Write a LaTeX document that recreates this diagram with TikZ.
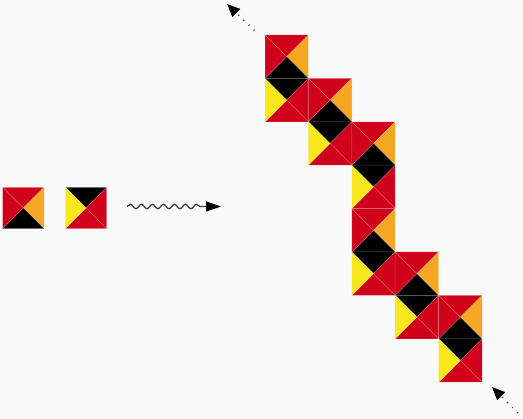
\documentclass[tikz,border=0pt]{standalone}
\usepackage{xcolor}
\usepackage{tikz}
\usetikzlibrary{calc, arrows.meta, decorations.pathmorphing}

\definecolor{tilered}{HTML}{D0021B}
\definecolor{tileorange}{HTML}{F5A623}
\definecolor{tileyellow}{HTML}{F8E71C}
\definecolor{bggray}{HTML}{F9F9F9}
\definecolor{wavegray}{HTML}{2E4046}
\definecolor{dotgray}{HTML}{3A4A50}

% one square tile cut by its diagonals: #1 corner, #2 side, #3 top, #4 right, #5 bottom, #6 left
\newcommand{\wangtile}[6]{%
  \begin{scope}[shift={#1}]
    \filldraw[tileedge, fill=#3] (0,0) -- (#2,0) -- (#2/2,#2/2) -- cycle;
    \filldraw[tileedge, fill=#4] (#2,0) -- (#2,#2) -- (#2/2,#2/2) -- cycle;
    \filldraw[tileedge, fill=#5] (#2,#2) -- (0,#2) -- (#2/2,#2/2) -- cycle;
    \filldraw[tileedge, fill=#6] (0,#2) -- (0,0) -- (#2/2,#2/2) -- cycle;
  \end{scope}}
\newcommand{\tileA}[2]{\wangtile{#1}{#2}{tilered}{tileorange}{black}{tilered}}
\newcommand{\tileB}[2]{\wangtile{#1}{#2}{black}{tilered}{tilered}{tileyellow}}

\begin{document}
\begin{tikzpicture}[x=1pt, y=-1pt,
    tileedge/.style={draw=white, draw opacity=0.22, line width=0.5pt},
    dotarrow/.style={draw=dotgray, line width=1.4pt, dash pattern=on 1.2pt off 5.9pt,
      -{Triangle[length=13pt, width=11pt, black]}},
    wavearrow/.style={draw=wavegray, line width=1.3pt,
      -{Triangle[length=15pt, width=10pt, black]},
      decorate, decoration={snake, amplitude=2.2pt, segment length=11pt, post length=17pt}}]

    % =================================================================
    % 1. BACKGROUND AND FRAME
    % =================================================================
    \fill[bggray] (0,0) rectangle (523,419);
    \useasboundingbox (0,0) rectangle (523,419);

    \def\ts{43.4}   % side of a tile in the staircase
    \def\ls{41.3}   % side of the two single tiles

    % =================================================================
    % 2. THE TWO TILES ON THEIR OWN
    % =================================================================
    \tileA{(2.7,187.3)}{\ls}
    \tileB{(65.4,187.3)}{\ls}

    % =================================================================
    % 3. WAVY ARROW
    % =================================================================
    \coordinate (WaveStart) at (127,206.5);
    \coordinate (WaveEnd) at (221,206.5);
    \draw[wavearrow] (WaveStart) -- (WaveEnd);

    % =================================================================
    % 4. STAIRCASE (each pair: tile A above tile B)
    % =================================================================
    \foreach \c/\r in {0/0, 1/1, 2/2, 2/4, 3/5, 4/6} {
        \tileA{(265+\c*\ts, 35+\r*\ts)}{\ts}
        \tileB{(265+\c*\ts, 35+\r*\ts+\ts)}{\ts}
    }

    % =================================================================
    % 5. DOTTED ARROWS AT BOTH ENDS
    % =================================================================
    \coordinate (TopEnd) at (254.5,30.5);
    \coordinate (TopTip) at (227,4);
    \coordinate (BotEnd) at (518,413);
    \coordinate (BotTip) at (492,387);

    \draw[dotarrow] (TopEnd) -- (TopTip);
    \draw[dotarrow] (BotEnd) -- (BotTip);

\end{tikzpicture}
\end{document}
